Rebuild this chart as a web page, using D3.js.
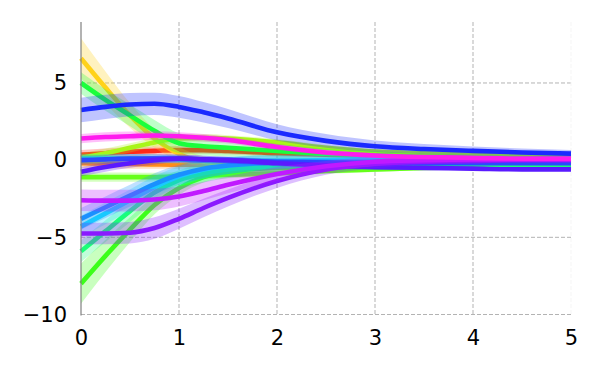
<!DOCTYPE html>
<html>
<head>
<meta charset="utf-8">
<script src="https://cdn.jsdelivr.net/npm/d3@7"></script>
<style>
  html, body { margin: 0; padding: 0; background: #fff; }
  svg { display: block; font-family: "DejaVu Sans", sans-serif; }
</style>
</head>
<body>
<svg id="chart" width="600" height="375"></svg>
<script>
// ---- data ----
const xs = [0, 0.25, 0.5, 0.75, 1, 1.25, 1.5, 2, 2.5, 3, 3.5, 4, 4.5, 5];
const xTicks = [0, 1, 2, 3, 4, 5];
const yTicks = [-10, -5, 0, 5];

const red       = [0.35, 0.45, 0.55, 0.6, 0.65, 0.65, 0.6, 0.45, 0.35, 0.25, 0.15, 0.1, 0.08, 0.05];
const orange    = [-0.2, -0.22, -0.25, -0.28, -0.3, -0.3, -0.3, -0.25, -0.2, -0.15, -0.12, -0.1, -0.1, -0.1];
const gold      = [6.6, 4.7, 2.9, 1.4, 0.4, -0.1, -0.3, -0.35, -0.3, -0.2, -0.15, -0.1, -0.1, -0.1];
const yellowgrn = [0.15, 0.45, 0.8, 1.15, 1.4, 1.45, 1.4, 1.15, 0.8, 0.55, 0.45, 0.35, 0.3, 0.3];
const lawn      = [-1.1, -1.1, -1.1, -1.1, -1.05, -1.0, -0.95, -0.85, -0.7, -0.6, -0.5, -0.45, -0.45, -0.45];
const greenHi   = [5.0, 3.9, 2.9, 1.9, 1.1, 0.9, 0.8, 0.6, 0.4, 0.3, 0.2, 0.15, 0.1, 0.1];
const greenLo   = [-8.0, -6.2, -4.5, -2.9, -1.8, -1.1, -0.75, -0.5, -0.45, -0.45, -0.45, -0.45, -0.45, -0.45];
const spring    = [-5.9, -4.6, -3.3, -2.1, -1.3, -0.85, -0.6, -0.4, -0.35, -0.35, -0.35, -0.35, -0.35, -0.35];
const teal      = [0.1, 0.1, 0.1, 0.1, 0.05, 0.0, 0.0, -0.05, -0.05, -0.05, -0.05, -0.05, -0.05, -0.05];
const cyan      = [-4.3, -3.45, -2.6, -1.75, -1.05, -0.6, -0.35, -0.1, 0.0, 0.05, 0.05, 0.05, 0.05, 0.05];
const skyblue   = [-3.8, -3.05, -2.3, -1.55, -0.95, -0.55, -0.35, -0.15, -0.1, -0.1, -0.1, -0.1, -0.1, -0.1];
const blueBig   = [3.25, 3.45, 3.6, 3.65, 3.45, 3.1, 2.7, 1.8, 1.25, 0.9, 0.72, 0.6, 0.5, 0.42];
const blueZero  = [0.0, 0.05, 0.1, 0.1, 0.1, 0.05, 0.0, -0.1, -0.15, -0.2, -0.2, -0.2, -0.2, -0.2];
const indigo    = [-0.75, -0.45, -0.2, 0.0, 0.1, 0.05, 0.0, -0.2, -0.35, -0.45, -0.5, -0.55, -0.6, -0.6];
const violet    = [-4.75, -4.75, -4.7, -4.4, -3.8, -3.1, -2.45, -1.35, -0.6, -0.25, -0.1, -0.05, 0.0, 0.0];
const purple    = [-2.6, -2.62, -2.62, -2.55, -2.35, -2.0, -1.6, -0.9, -0.4, -0.1, 0.0, 0.05, 0.05, 0.05];
const magenta   = [1.4, 1.5, 1.55, 1.6, 1.55, 1.45, 1.3, 0.85, 0.5, 0.3, 0.2, 0.15, 0.1, 0.1];

// band half-widths
const sdSmall = [0.3, 0.3, 0.3, 0.28, 0.26, 0.24, 0.22, 0.2, 0.18, 0.16, 0.14, 0.12, 0.1, 0.1];
const sdMid   = [0.7, 0.7, 0.7, 0.7, 0.65, 0.6, 0.55, 0.45, 0.35, 0.28, 0.22, 0.18, 0.15, 0.12];
const sdBlue  = [0.8, 0.78, 0.75, 0.72, 0.7, 0.66, 0.62, 0.52, 0.44, 0.38, 0.33, 0.29, 0.26, 0.24];
const sdSteep = [1.3, 1.05, 0.8, 0.6, 0.45, 0.35, 0.3, 0.22, 0.18, 0.15, 0.12, 0.1, 0.1, 0.1];

const seriesNames  = ["red", "orange", "gold", "yellowgrn", "lawn", "greenHi", "greenLo", "spring", "teal", "cyan", "skyblue", "blueBig", "blueZero", "indigo", "violet", "purple", "magenta"];
const seriesValues = [red, orange, gold, yellowgrn, lawn, greenHi, greenLo, spring, teal, cyan, skyblue, blueBig, blueZero, indigo, violet, purple, magenta];
const seriesSd     = [sdSmall, sdSmall, sdSteep, sdSmall, sdSmall, sdMid, sdSteep, sdMid, sdSmall, sdMid, sdMid, sdBlue, sdSmall, sdSmall, sdMid, sdMid, sdSmall];
const seriesColors = ["#ff2a1a", "#ff8c1a", "#ffd21a", "#a8f51a", "#66ff1a", "#1aff3c", "#3cff1a", "#1aff78", "#1affc8", "#1ae0ff", "#1a90ff", "#1a2aff", "#2a4aff", "#5a1aff", "#8a1aff", "#c01aff", "#ff1aee"];

// ---- chart ----
const svg = d3.select("#chart");
const x = d3.scaleLinear().domain([0, 5]).range([81, 571]);
const y = d3.scaleLinear().domain([-10, 8.95]).range([314.5, 22]);

// grid
const grid = svg.append("g");
grid.selectAll("line.h").data(yTicks).join("line")
  .attr("x1", x(0)).attr("x2", x(5))
  .attr("y1", d => y(d)).attr("y2", d => y(d))
  .attr("stroke", "#aaaaaa").attr("stroke-width", 0.9).attr("stroke-dasharray", "4,2");
grid.selectAll("line.v").data(xTicks.filter(d => d > 0)).join("line")
  .attr("x1", d => x(d)).attr("x2", d => x(d))
  .attr("y1", y.range()[1]).attr("y2", y.range()[0])
  .attr("stroke", d => d === 5 ? "#f4f4f4" : "#aaaaaa").attr("stroke-width", 0.9).attr("stroke-dasharray", "4,2");

// series
const plot = svg.append("g");
const area = d3.area()
  .x(d => x(d.x)).y0(d => y(d.v - d.s)).y1(d => y(d.v + d.s))
  .curve(d3.curveMonotoneX);
const line = d3.line()
  .x(d => x(d.x)).y(d => y(d.v))
  .curve(d3.curveMonotoneX);

seriesValues.forEach((vals, i) => {
  const pts = xs.map((xv, j) => ({ x: xv, v: vals[j], s: seriesSd[i][j] }));
  plot.append("path").attr("class", "band " + seriesNames[i])
    .attr("d", area(pts))
    .attr("fill", seriesColors[i]).attr("fill-opacity", 0.28).attr("stroke", "none");
  plot.append("path").attr("class", "line " + seriesNames[i])
    .attr("d", line(pts))
    .attr("fill", "none").attr("stroke", seriesColors[i]).attr("stroke-width", 4.6)
    .attr("stroke-linecap", "butt");
});

// left spine
svg.append("line")
  .attr("x1", x(0)).attr("x2", x(0))
  .attr("y1", y.range()[1]).attr("y2", y.range()[0] + 1)
  .attr("stroke", "#808080").attr("stroke-width", 1.2);

// axes
const yAxis = d3.axisLeft(y).tickValues(yTicks).tickSize(0).tickPadding(14)
  .tickFormat(d => d < 0 ? "\u2212" + Math.abs(d) : String(d));
const gy = svg.append("g").attr("transform", `translate(${x(0)},0)`).call(yAxis);
gy.select(".domain").remove();
gy.selectAll("text").attr("font-size", 21).attr("fill", "#000").attr("font-family", "DejaVu Sans");

const xAxis = d3.axisBottom(x).tickValues(xTicks).tickSize(0).tickPadding(16)
  .tickFormat(d => String(d));
const gx = svg.append("g").attr("transform", `translate(0,${y(-10)})`).call(xAxis);
gx.select(".domain").remove();
gx.selectAll("text").attr("font-size", 21).attr("fill", "#000").attr("font-family", "DejaVu Sans");
</script>
</body>
</html>
